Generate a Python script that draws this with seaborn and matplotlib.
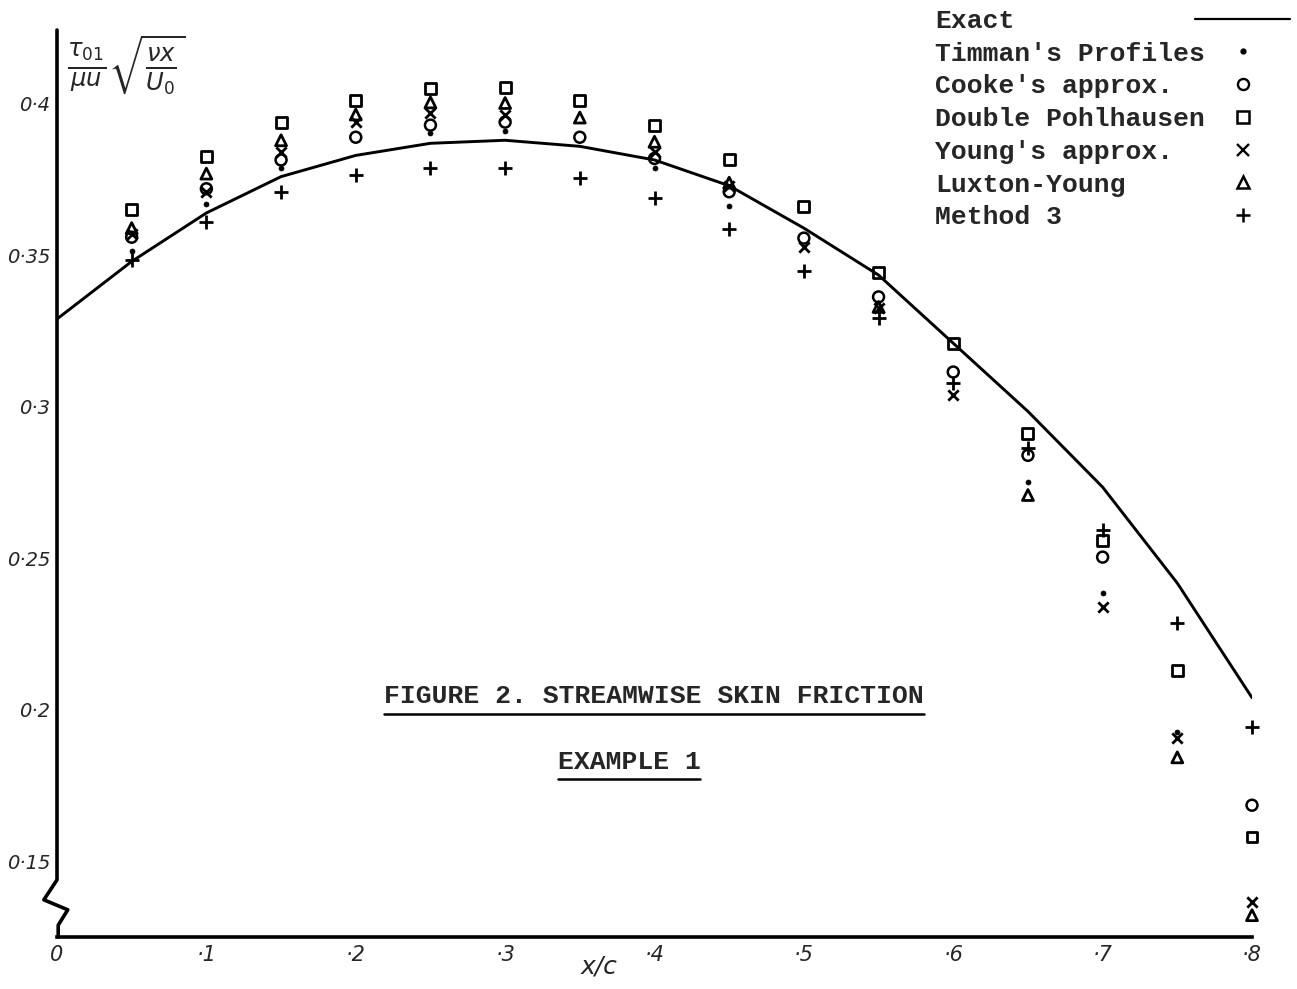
import numpy as np
import matplotlib
matplotlib.use("Agg")
import matplotlib.pyplot as plt
from matplotlib.lines import Line2D
from matplotlib.legend_handler import HandlerLine2D
import seaborn as sns
import pandas as pd

nan = np.nan

# ---- data ----
x_exact = [0.0, 0.05, 0.1, 0.15, 0.2, 0.25, 0.3, 0.35, 0.4, 0.45, 0.5, 0.55, 0.6, 0.65, 0.7, 0.75, 0.8]
y_exact = [0.329, 0.348, 0.364, 0.376, 0.383, 0.387, 0.388, 0.386, 0.3815, 0.373, 0.359, 0.3435, 0.321, 0.2985, 0.2735, 0.2418, 0.204]

x_pts = [0.05, 0.1, 0.15, 0.2, 0.25, 0.3, 0.35, 0.4, 0.45, 0.5, 0.55, 0.6, 0.65, 0.7, 0.75, 0.8]
timman = [0.3515, 0.367, 0.379, nan, 0.3905, 0.391, nan, 0.379, 0.3663, nan, nan, nan, 0.2752, 0.2385, 0.1926, nan]
cooke = [0.356, 0.372, 0.3815, 0.389, 0.393, 0.394, 0.389, 0.382, 0.371, 0.3557, 0.3363, 0.3115, 0.284, 0.2504, nan, 0.1685]
pohlhausen = [0.365, 0.3825, 0.394, 0.401, 0.405, 0.4055, 0.401, 0.393, 0.3815, 0.366, 0.3445, 0.321, 0.2913, 0.256, 0.2131, 0.158]
young = [0.357, 0.371, 0.384, 0.394, 0.397, 0.3965, nan, 0.384, 0.373, 0.3528, 0.3326, 0.304, nan, 0.2339, 0.1906, 0.1365]
luxton = [0.359, 0.377, 0.388, 0.3965, 0.4005, 0.4003, 0.3955, 0.3875, 0.374, nan, 0.333, nan, 0.2709, nan, 0.1843, 0.1322]
method3 = [0.3485, 0.361, 0.371, 0.3765, 0.379, 0.379, 0.3755, 0.369, 0.3587, 0.345, 0.3293, 0.308, 0.2865, 0.2593, 0.2286, 0.1943]

legend_labels = ["Exact", "Timman's Profiles", "Cooke's approx.", "Double Pohlhausen",
                 "Young's approx.", "Luxton-Young", "Method 3"]
xtick_vals = [0.0, 0.1, 0.2, 0.3, 0.4, 0.5, 0.6, 0.7, 0.8]
xtick_labels = ["0", "·1", "·2", "·3", "·4", "·5", "·6", "·7", "·8"]
ytick_vals = [0.15, 0.2, 0.25, 0.3, 0.35, 0.4]
ytick_labels = ["0·15", "0·2", "0·25", "0·3", "0·35", "0·4"]
title1 = "FIGURE 2. STREAMWISE SKIN FRICTION"
title2 = "EXAMPLE 1"

# ---- style ----
sns.set_theme(style="white")
plt.rcParams["font.family"] = ["DejaVu Sans"]
W, H = 1297, 989
fig = plt.figure(figsize=(W / 100, H / 100), dpi=100)
ax = fig.add_axes([57 / W, 1 - 937 / H, (1252 - 57) / W, (937 - 30) / H])
ax.set_xlim(0, 0.8)
ax.set_ylim(0.125, 0.4244)

# exact curve
sns.lineplot(x=x_exact, y=y_exact, ax=ax, color="black", lw=2.1, sort=False)

series = [
    (timman, "o", 13, True, 0.5),
    (cooke, "o", 62, False, 1.8),
    (pohlhausen, "s", 62, False, 2.0),
    (young, "x", 55, True, 2.0),
    (luxton, "^", 62, False, 2.0),
    (method3, "+", 95, True, 2.0),
]
for vals, mk, s, filled, lw in series:
    df = pd.DataFrame({"x": x_pts, "y": vals}).dropna()
    if filled:
        sns.scatterplot(data=df, x="x", y="y", ax=ax, marker=mk, s=s, color="black",
                        edgecolor="black", linewidth=lw, clip_on=False, zorder=3)
    else:
        sns.scatterplot(data=df, x="x", y="y", ax=ax, marker=mk, s=s, facecolor="none",
                        edgecolor="black", linewidth=lw, clip_on=False, zorder=3)

# axes styling
for sp in ["top", "right", "left"]:
    ax.spines[sp].set_visible(False)
ax.spines["bottom"].set_color("black")
ax.spines["bottom"].set_linewidth(2.6)
ax.set_xticks(xtick_vals)
ax.set_xticklabels(xtick_labels, fontsize=15, fontstyle="italic")
ax.set_yticks(ytick_vals)
ax.set_yticklabels(ytick_labels, fontsize=14, fontstyle="italic")
ax.tick_params(axis="x", direction="in", length=10, width=2.2, pad=6, color="black")
ax.tick_params(axis="y", direction="in", length=7, width=2.2, pad=5, color="black")
ax.set_xlabel("")
ax.set_ylabel("")
ax.grid(False)

# left axis with break squiggle
axis_x = [0, 0, -0.011, 0.009, 0.001, 0.001]
axis_y = [1.0, 0.063, 0.041, 0.030, 0.013, 0.0]
ax.plot(axis_x, axis_y, transform=ax.transAxes, color="black", lw=2.6, clip_on=False,
        solid_joinstyle="round")

# axis labels
ax.text(0.454, -0.033, "x/c", transform=ax.transAxes, ha="center", va="center",
        fontsize=18, fontstyle="italic")
ax.text(0.058, 0.962, r"$\frac{\tau_{01}}{\mu u}\sqrt{\frac{\nu x}{U_0}}$",
        transform=ax.transAxes, ha="center", va="center", fontsize=25)

# legends
class RightMarker(HandlerLine2D):
    def get_xdata(self, legend, xdescent, ydescent, width, height, fontsize):
        xdata, _ = super().get_xdata(legend, xdescent, ydescent, width, height, fontsize)
        return xdata, np.array([-xdescent + 0.84 * width])

mono = {"family": "Liberation Mono", "size": 19, "weight": "bold"}
blank = [Line2D([], [], linestyle="none") for _ in legend_labels]
leg1 = fig.legend(blank, legend_labels, loc="upper left", bbox_to_anchor=(935 / W, 1 - 9 / H),
                  frameon=False, handlelength=0, handletextpad=0, borderpad=0,
                  borderaxespad=0, labelspacing=0.33, prop=mono)

proxies = [
    Line2D([], [], color="black", lw=1.6),
    Line2D([], [], color="black", marker="o", markersize=3.5, linestyle="none"),
    Line2D([], [], color="black", marker="o", markersize=8, mfc="none", mew=1.7, linestyle="none"),
    Line2D([], [], color="black", marker="s", markersize=8, mfc="none", mew=1.8, linestyle="none"),
    Line2D([], [], color="black", marker="x", markersize=8, mew=1.7, linestyle="none"),
    Line2D([], [], color="black", marker="^", markersize=8, mfc="none", mew=1.8, linestyle="none"),
    Line2D([], [], color="black", marker="+", markersize=10, mew=1.8, linestyle="none"),
]
handler = RightMarker(numpoints=1)
leg2 = fig.legend(proxies, [" "] * len(proxies), loc="upper left",
                  bbox_to_anchor=(1195 / W, 1 - 9 / H), frameon=False, handlelength=3.6,
                  handletextpad=0, borderpad=0, borderaxespad=0, labelspacing=0.33, prop=mono,
                  handler_map={p: handler for p in proxies})

# title texts
t1 = fig.text(654 / W, 1 - 703 / H, title1, ha="center", va="baseline",
              fontfamily="Liberation Mono", fontsize=19, fontweight="bold")
t2 = fig.text(629 / W, 1 - 769 / H, title2, ha="center", va="baseline",
              fontfamily="Liberation Mono", fontsize=19, fontweight="bold")
fig.canvas.draw()
r = fig.canvas.get_renderer()
for t, gap in [(t1, 10), (t2, 9)]:
    bb = t.get_window_extent(r)
    yb = (bb.y0 - gap + 4) / H
    fig.add_artist(Line2D([bb.x0 / W, bb.x1 / W], [yb, yb], color="black", lw=1.8,
                          transform=fig.transFigure))

fig.savefig("out.png", dpi=100, facecolor="white")
